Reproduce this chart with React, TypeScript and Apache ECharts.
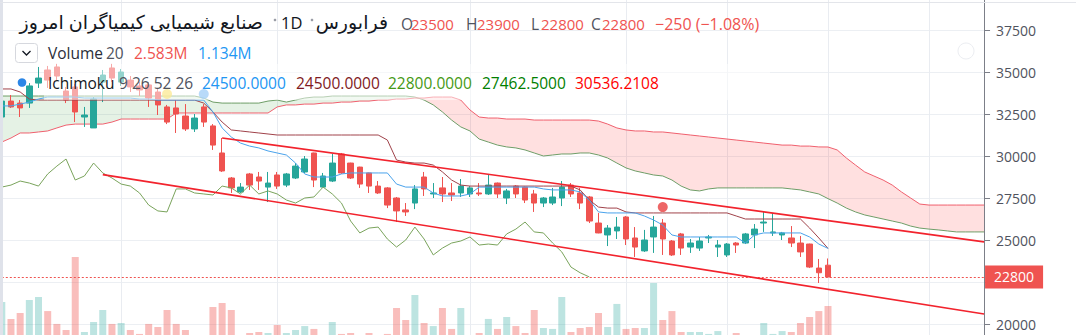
import React, { useEffect, useRef } from 'react';
import * as echarts from 'echarts';

// ---------- data ----------
const categories: string[] = Array.from({ length: 108 }, (_, i) => String(i + 1));

// [open, close, low, high]
const ohlc: number[][] = [
  [32320, 33270, 32200, 33510], [33270, 32920, 32860, 33630], [33150, 32860, 32320, 33330], [33150, 34170, 32860, 34340],
  [34340, 34640, 34050, 35300], [35120, 34520, 34050, 35360], [35300, 34760, 34520, 35480], [33870, 33330, 33150, 34110],
  [34110, 32620, 32020, 34290], [32320, 32440, 31730, 32920], [31670, 33390, 31670, 33510], [34400, 34820, 33210, 35120],
  [35240, 34640, 34400, 35480], [34400, 35000, 34170, 35180], [34520, 34110, 33810, 34760], [34170, 33930, 33570, 34400],
  [34230, 33450, 32920, 34400], [33810, 33040, 32440, 34050], [32920, 32020, 31900, 33040], [32860, 32500, 31370, 33330],
  [32380, 31610, 31490, 33090], [31610, 32260, 31430, 32500], [32920, 32020, 31730, 33090], [31790, 30650, 30360, 31900],
  [30180, 29110, 29050, 31070], [28690, 28100, 27800, 28750], [27860, 28150, 27800, 28390], [28930, 28270, 27980, 28990],
  [28750, 28510, 27980, 29050], [28150, 28390, 27260, 29050], [28870, 28210, 28040, 29050], [28270, 28930, 28150, 28990],
  [28690, 29400, 28630, 29580], [29050, 29820, 28990, 30000], [30180, 28570, 28150, 30200], [28150, 28810, 28150, 28990],
  [28510, 29580, 28450, 30120], [30120, 28990, 28930, 30180], [29580, 28690, 28630, 29600], [29340, 28330, 28100, 29360],
  [28990, 28210, 27800, 29010], [28210, 27800, 27740, 28510], [28100, 27080, 26900, 28150], [27500, 26730, 26070, 27560],
  [26790, 26670, 26430, 27200], [27200, 28040, 26840, 28270], [28750, 28040, 27620, 29050], [27740, 27800, 27500, 28390],
  [28100, 27740, 27260, 28750], [27800, 27680, 27320, 28390], [27800, 28210, 27560, 28630], [27740, 28100, 27560, 28210],
  [27800, 27740, 27620, 28390], [27740, 28270, 27680, 28930], [28390, 27740, 27500, 28420], [27500, 27920, 27140, 28040],
  [28210, 27740, 27500, 28270], [28150, 27380, 27200, 28180], [27740, 27200, 26670, 27980], [27200, 27500, 26960, 27560],
  [27200, 27560, 27080, 28100], [27500, 28150, 27020, 28510], [28270, 27740, 27560, 28390], [27800, 27200, 26840, 28100],
  [27560, 26130, 26010, 27620], [26010, 25420, 25400, 26610], [25300, 25710, 24640, 25890], [25540, 25770, 25060, 26370],
  [26370, 25060, 24700, 26430], [25120, 24580, 23990, 25770], [24350, 25000, 24290, 25600], [25180, 25770, 24230, 26430],
  [26010, 25060, 24110, 26250], [24940, 24110, 24050, 25000], [25360, 24520, 24110, 25420], [24580, 24820, 24230, 25060],
  [24520, 24940, 24350, 25180], [25120, 25180, 24820, 25300], [24580, 24700, 23990, 25000], [24110, 24760, 23990, 24820],
  [24820, 24700, 24230, 24880], [24820, 25360, 24760, 25420], [25300, 25650, 24520, 25950], [26010, 26070, 25480, 26670],
  [25420, 25480, 25240, 26610], [25300, 25420, 25000, 25480], [25120, 24820, 24580, 25830], [24820, 24290, 23990, 25240],
  [24760, 23390, 23330, 24780], [23330, 23050, 22440, 23870], [23500, 22800, 22800, 23900],
];

// volume, millions
const volumes: number[] = [
  2.89, 1.6, 2.05, 3.04, 3.27, 2.2, 1.22, 0.76, 6.31, 0.61,
  1.37, 2.28, 1.22, 1.29, 0.76, 0.46, 1.22, 0.99, 2.28, 1.22,
  0.76, 0.23, 0.15, 2.51, 2.81, 2.28, 0.23, 0.53, 0.61, 0.53,
  1.14, 0.53, 0.76, 1.06, 0.84, 0.23, 1.37, 0.46, 0.53, 0.23,
  0.53, 0.15, 0.46, 2.43, 1.52, 3.42, 1.29, 1.06, 2.43, 0.84,
  2.43, 0.23, 0.53, 1.6, 0.84, 1.75, 1.06, 0.53, 2.28, 0.91,
  0.84, 3.27, 0.61, 0.91, 0.99, 2.05, 0.99, 2.74, 0.84, 0.91,
  0.91, 4.33, 1.52, 2.2, 0.61, 0.61, 0.61, 0.46, 0.68, 0.23,
  0.53, 0.23, 0.23, 1.29, 0.46, 0.68, 0.61, 1.29, 1.75, 2.2,
  2.583,
];

const tenkan: number[] = [
  32980, 32980, 33090, 33210, 33390, 33510, 33510, 33510, 33510, 33450,
  33450, 33450, 33450, 33450, 33450, 33390, 33390, 33330, 33330, 33330,
  33330, 33330, 33330, 32620, 31670, 31130, 30770, 30590, 30480, 30300,
  30180, 30060, 29580, 28930, 28750, 28750, 28750, 28930, 28990, 28990,
  28990, 28990, 28990, 28330, 28150, 28150, 28150, 27800, 27620, 27620,
  27620, 27740, 28150, 28150, 28150, 28150, 28150, 28150, 28150, 28040,
  27980, 27980, 27980, 27860, 27380, 26670, 26610, 26610, 26610, 26610,
  26430, 26190, 25890, 25300, 25180, 25180, 25180, 25180, 25180, 25180,
  25180, 24820, 25300, 25420, 25420, 25420, 25420, 25420, 25180, 24760,
  24500,
];

const kijun: number[] = [
  33990, 33990, 33810, 33390, 33330, 33330, 33330, 33330, 33330, 33330,
  33330, 33330, 33330, 33330, 33330, 33330, 33330, 33330, 33330, 33330,
  33330, 33330, 33150, 32620, 32020, 31550, 31490, 31430, 31370, 31310,
  31250, 31250, 31250, 31250, 31250, 31250, 31250, 31250, 31250, 31250,
  31250, 31250, 30950, 29760, 29640, 29580, 29580, 29460, 29050, 28570,
  28270, 28210, 28210, 28210, 28210, 28210, 28210, 28210, 28210, 28210,
  28210, 28210, 28210, 27980, 27380, 26960, 26900, 26900, 26670, 26610,
  26610, 26610, 26610, 26610, 26610, 26610, 26610, 26610, 26610, 26610,
  26430, 26250, 26250, 26250, 26250, 26250, 26250, 26250, 25710, 25120,
  24500,
];

const spanA: number[] = [
  33570, 33570, 33570, 33570, 33570, 33570, 33570, 33570, 33570, 33570,
  33570, 33570, 33570, 33570, 33570, 33570, 33570, 33570, 33570, 33570,
  33570, 33570, 33450, 33210, 33150, 33150, 33150, 33150, 33150, 33270,
  33330, 33210, 33330, 33450, 33510, 33510, 33570, 33570, 33570, 33570,
  33570, 33570, 33570, 33570, 33570, 33510, 33330, 33040, 32620, 32140,
  31730, 31490, 31010, 30830, 30650, 30540, 30480, 30360, 30180, 30000,
  30060, 30120, 30120, 30180, 30180, 30060, 29880, 29580, 29290, 29110,
  28990, 28870, 28810, 28570, 28210, 27980, 27920, 28040, 28100, 28100,
  28100, 28100, 28100, 28100, 28100, 28100, 28040, 27980, 27860, 27740,
  27462.5, 27200, 26900, 26670, 26490, 26370, 26250, 26130, 26010, 25830,
  25710, 25650, 25600, 25540, 25480, 25480, 25480, 25480,
];

const spanB: number[] = [
  30830, 31070, 31370, 31370, 31430, 31490, 31670, 31840, 31900, 31900,
  31900, 31900, 32020, 32200, 32200, 32200, 32200, 32200, 32200, 32560,
  32560, 32560, 32560, 32560, 32560, 32560, 32560, 32560, 32560, 32560,
  32920, 33040, 33040, 33090, 33090, 33150, 33150, 33210, 33210, 33270,
  33270, 33330, 33330, 33390, 33390, 33450, 33450, 33510, 33510, 33510,
  33330, 32740, 32320, 32260, 32260, 32200, 32200, 32200, 32140, 32140,
  32140, 32140, 32140, 32140, 32140, 32080, 31900, 31670, 31550, 31490,
  31490, 31430, 31430, 31370, 31310, 31250, 31190, 31130, 31070, 31010,
  30950, 30890, 30830, 30770, 30710, 30650, 30650, 30590, 30590, 30540,
  30536.2108, 30360, 29880, 29460, 29050, 28810, 28570, 28270, 27860, 27500,
  27140, 27080, 27080, 27080, 27080, 27080, 27080, 27080,
];

const channelUpper: number[][] = [[24, 31070], [107, 24890]];
const channelLower: number[][] = [[11, 28890], [107, 20600]];

const eventYellow: number[][] = [[18, 33690]];
const eventBlue: number[][] = [[22, 33690]];
const eventRed: number[][] = [[72, 26960]];

const timeGridIdx: number[] = [13, 30, 51, 68, 79, 90, 101];
const priceTicks = { min: 17500, max: 40000, step: 2500 };

const titleName = 'صنایع شیمیایی کیمیاگران امروز';
const exchangeName = 'فرابورس';
const resolution = '1D';
const ohlcLegend = ['23500', '23900', '22800', '22800'];
const changeLegend = '−250 (−1.08%)';
const volumeLegend = ['2.583M', '1.134M'];
const ichimokuLegend = ['24500.0000', '24500.0000', '22800.0000', '27462.5000', '30536.2108'];

// ---------- chart ----------
const FONT = "'Open Sans', 'DejaVu Sans', sans-serif";
const UP = '#26a69a';
const DOWN = '#ef5350';

function txt(text: string, x: number, y: number, fill: string, size = 15.5, align = 'left') {
  return {
    type: 'text', x, y, z: 120,
    style: { text, fill, fontSize: size, fontFamily: FONT, align, verticalAlign: 'middle' },
  };
}

function buildOption() {
  const lastClose = ohlc[ohlc.length - 1][1];
  const lagging = ohlc.slice(26).map((c) => c[1]);
  const cloudLow = spanA.map((a, i) => Math.min(a, spanB[i]));
  const greenDiff = spanA.map((a, i) => Math.max(a - spanB[i], 0));
  const redDiff = spanA.map((a, i) => Math.max(spanB[i] - a, 0));
  const volData = volumes.map((v, i) => ({
    value: v,
    itemStyle: { color: ohlc[i][1] >= ohlc[i][0] ? 'rgba(38,166,154,0.3)' : 'rgba(239,83,80,0.38)' },
  }));

  const left = 1.8;
  const right = 1076 - (1.8 + 107 * 9.18);

  const hidden = { show: false };
  const lineS = (data: any, color: string, width = 1, z = 4) => ({
    type: 'line', data, symbol: 'none', silent: true, z,
    lineStyle: { color, width }, xAxisIndex: 0, yAxisIndex: 0,
  });

  const graphic: any[] = [
    { type: 'rect', z: 100, shape: { x: 0, y: 0, width: 3, height: 335 }, style: { fill: '#dfe2ea' } },
    { type: 'line', z: 100, shape: { x1: 0, y1: 2.5, x2: 1076, y2: 2.5 }, style: { stroke: '#e3e5ea', lineWidth: 1 } },
    { type: 'rect', z: 110, shape: { x: 44, y: 64, width: 726, height: 36 }, style: { fill: 'rgba(255,255,255,0.5)' } },
    { type: 'circle', z: 100, shape: { cx: 966, cy: 51, r: 8 }, style: { fill: 'none', stroke: '#eceef2', lineWidth: 1 } },
    // row 1
    txt(titleName, 263, 22, '#131722', 19, 'right'),
    { type: 'circle', z: 120, shape: { cx: 275, cy: 20, r: 1.3 }, style: { fill: '#9a9da6' } },
    txt(resolution, 281, 22.5, '#131722', 16.5),
    { type: 'circle', z: 120, shape: { cx: 312, cy: 20, r: 1.3 }, style: { fill: '#9a9da6' } },
    txt(exchangeName, 388, 22, '#131722', 19, 'right'),
    txt('O', 401, 23.5, '#50535e', 15.5),
    txt(ohlcLegend[0], 411, 23.5, DOWN, 15),
    txt('H', 466, 23.5, '#50535e', 15.5),
    txt(ohlcLegend[1], 477, 23.5, DOWN, 15),
    txt('L', 531, 23.5, '#50535e', 15.5),
    txt(ohlcLegend[2], 541, 23.5, DOWN, 15),
    txt('C', 591, 23.5, '#50535e', 15.5),
    txt(ohlcLegend[3], 602, 23.5, DOWN, 15),
    txt(changeLegend, 655, 23.5, DOWN, 16),
    // row 2
    { type: 'rect', z: 120, shape: { x: 15.5, y: 43.5, width: 22, height: 19, r: 3 }, style: { fill: '#fff', stroke: '#d6d8de', lineWidth: 1 } },
    { type: 'polyline', z: 121, shape: { points: [[22.5, 51], [26.5, 55], [30.5, 51]] }, style: { fill: 'none', stroke: '#131722', lineWidth: 1.3 } },
    txt('Volume', 48, 53, '#2a2e39'),
    txt('20', 106, 53, '#50535e'),
    txt(volumeLegend[0], 134, 53, DOWN),
    txt(volumeLegend[1], 198, 53, '#2196f3'),
    // row 3
    { type: 'circle', z: 120, shape: { cx: 22, cy: 82.5, r: 4.3 }, style: { fill: '#2b86e6' } },
    txt('Ichimoku', 48, 82.5, '#131722'),
    txt('9 26 52 26', 119, 82.5, '#50535e'),
    txt(ichimokuLegend[0], 202, 82.5, '#2196f3'),
    txt(ichimokuLegend[1], 296, 82.5, '#801922'),
    txt(ichimokuLegend[2], 388, 82.5, '#459915'),
    txt(ichimokuLegend[3], 482, 82.5, '#008000'),
    txt(ichimokuLegend[4], 575, 82.5, '#ff0000'),
  ];

  return {
    animation: false,
    backgroundColor: '#ffffff',
    grid: [
      { left, right, top: -12, height: 378, outerBoundsMode: 'none', containLabel: false },
      { left, right, top: 200, height: 140, outerBoundsMode: 'none', containLabel: false },
    ],
    xAxis: [
      {
        type: 'category', gridIndex: 0, data: categories, boundaryGap: false,
        axisLine: hidden, axisTick: hidden, axisLabel: hidden,
        splitLine: { show: true, interval: (i: number) => timeGridIdx.includes(i), lineStyle: { color: '#e9ecf1', width: 1 } },
      },
      {
        type: 'category', gridIndex: 1, data: categories, boundaryGap: false,
        axisLine: hidden, axisTick: hidden, axisLabel: hidden, splitLine: hidden,
      },
    ],
    yAxis: [
      {
        type: 'value', gridIndex: 0, position: 'right',
        min: priceTicks.min, max: priceTicks.max, interval: priceTicks.step,
        axisLine: { show: true, lineStyle: { color: '#7c7f88', width: 1 } },
        axisTick: { show: true, length: 6, lineStyle: { color: '#7c7f88' } },
        axisLabel: {
          margin: 12, color: '#50535e', fontSize: 14, fontFamily: FONT,
          formatter: (v: number) => (v === 22500 || v === priceTicks.min || v === priceTicks.max ? '' : String(v)),
        },
        splitLine: { show: true, lineStyle: { color: '#eceff3', width: 1 } },
      },
      { type: 'value', gridIndex: 1, min: 0, max: 10.64, show: false, splitLine: hidden },
    ],
    graphic,
    series: [
      {
        type: 'bar', xAxisIndex: 1, yAxisIndex: 1, data: volData, barWidth: 7, silent: true, z: 1,
      },
      { type: 'line', data: cloudLow, stack: 'g', symbol: 'none', silent: true, z: 1, lineStyle: { opacity: 0, width: 0 } },
      {
        type: 'line', data: greenDiff, stack: 'g', symbol: 'none', silent: true, z: 1,
        lineStyle: { opacity: 0, width: 0 }, areaStyle: { color: 'rgba(0,128,0,0.1)', opacity: 1 },
      },
      { type: 'line', data: cloudLow, stack: 'r', symbol: 'none', silent: true, z: 1, lineStyle: { opacity: 0, width: 0 } },
      {
        type: 'line', data: redDiff, stack: 'r', symbol: 'none', silent: true, z: 1,
        lineStyle: { opacity: 0, width: 0 }, areaStyle: { color: 'rgba(255,0,0,0.12)', opacity: 1 },
      },
      lineS(spanA, '#6f9e68', 1, 2),
      lineS(spanB, '#f0606e', 1, 2),
      {
        type: 'candlestick', data: ohlc, barWidth: 6, z: 3, silent: true,
        itemStyle: { color: UP, color0: DOWN, borderColor: UP, borderColor0: DOWN, borderWidth: 1 },
        markLine: {
          silent: true, symbol: ['none', 'none'],
          data: [{ yAxis: lastClose }],
          lineStyle: { color: DOWN, type: [2, 2], width: 1 },
          label: {
            show: true, position: 'end', distance: 1, formatter: String(lastClose),
            color: '#ffffff', backgroundColor: DOWN, fontSize: 14, fontFamily: FONT,
            padding: [4, 9, 4, 9], lineHeight: 15,
          },
        },
      },
      lineS(lagging, '#7aa45c'),
      lineS(kijun, '#a0424a'),
      lineS(tenkan, '#4aa3ec'),
      lineS(channelUpper, '#f2232d', 1.6, 5),
      lineS(channelLower, '#f2232d', 1.6, 5),
      { type: 'scatter', data: eventYellow, symbolSize: 10, itemStyle: { color: '#f7d531' }, silent: true, z: 6 },
      { type: 'scatter', data: eventBlue, symbolSize: 10, itemStyle: { color: '#4ea3ef' }, silent: true, z: 6 },
      { type: 'scatter', data: eventRed, symbolSize: 10, itemStyle: { color: '#e84040' }, silent: true, z: 6 },
    ],
  };
}

export default function App() {
  const ref = useRef<HTMLDivElement>(null);
  useEffect(() => {
    if (!ref.current) return;
    const chart = echarts.init(ref.current, undefined, { renderer: 'svg' });
    chart.setOption(buildOption() as any);
    return () => chart.dispose();
  }, []);
  return (
    <div
      ref={ref}
      style={{ position: 'absolute', left: 0, top: 0, width: 1076, height: 335, background: '#fff' }}
    />
  );
}
